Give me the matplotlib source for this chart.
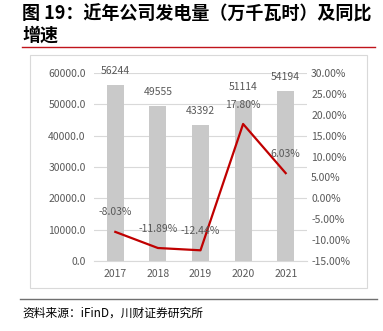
import matplotlib
matplotlib.use("Agg")
import matplotlib.pyplot as plt
from matplotlib.lines import Line2D
from matplotlib.patches import Rectangle

plt.rcParams['font.family'] = ['Noto Sans CJK SC', 'DejaVu Sans']

years = ["2017", "2018", "2019", "2020", "2021"]
generation = [56244, 49555, 43392, 51114, 54194]
growth = [-8.03, -11.89, -12.44, 17.80, 6.03]
left_ticks = [0, 10000, 20000, 30000, 40000, 50000, 60000]
right_ticks = [-15, -10, -5, 0, 5, 10, 15, 20, 25, 30]

GRAY_TXT = "#595959"
RED = "#C00000"

fig = plt.figure(figsize=(3.83, 3.31), dpi=100)

# title and decoration
fig.text(22/383, 1 - 14/331, "图 19：近年公司发电量（万千瓦时）及同比", fontsize=13,
         fontweight='bold', ha='left', va='center', color='black')
fig.text(22/383, 1 - 35/331, "增速", fontsize=13, fontweight='bold',
         ha='left', va='center', color='black')
fig.add_artist(Line2D([22/383, 375/383], [1 - 47/331, 1 - 47/331], color="#C0141B", lw=1.0))
fig.add_artist(Rectangle((30/383, 1 - 288/331), 337/383, 233/331, fill=False,
                         edgecolor="#D9D9D9", lw=0.8))
fig.add_artist(Line2D([20/383, 377/383], [1 - 299/331, 1 - 299/331], color="#707070", lw=1.0))
fig.text(22/383, 1 - 313/331, "资料来源：iFinD，川财证券研究所", fontsize=8.5,
         ha='left', va='center', color='black')

ax = fig.add_axes([94/383, 1 - 261/331, 213/383, 188/331])
x = range(len(years))
ax.bar(x, generation, width=0.4, color="#C9C9C9", zorder=2)
for i, v in zip(x, generation):
    ax.annotate(f"{v}", (i, v), xytext=(0, 10), textcoords='offset points',
                ha='center', va='center', fontsize=7.5, color=GRAY_TXT)
ax.set_ylim(0, 60000)
ax.set_xlim(-0.5, len(years) - 0.5)
ax.set_yticks(left_ticks)
ax.set_yticklabels([f"{t:.1f}" for t in left_ticks])
ax.set_xticks(list(x))
ax.set_xticklabels(years)
ax.grid(axis='y', color="#D9D9D9", lw=0.8, zorder=0)
ax.tick_params(axis='both', length=0, labelsize=7.5, colors=GRAY_TXT, pad=6)
for s in ax.spines.values():
    s.set_visible(False)
ax.spines['bottom'].set_visible(True)
ax.spines['bottom'].set_color("#D9D9D9")

ax2 = ax.twinx()
ax2.plot(list(x), growth, color=RED, lw=1.6, zorder=3)
for i, v in zip(x, growth):
    ax2.annotate(f"{v:.2f}%", (i, v), xytext=(0, 14), textcoords='offset points',
                 ha='center', va='center', fontsize=7.5, color=GRAY_TXT)
ax2.set_ylim(-15, 30)
ax2.set_yticks(right_ticks)
ax2.set_yticklabels([f"{t:.2f}%" for t in right_ticks])
ax2.tick_params(axis='y', length=0, labelsize=7.5, colors=GRAY_TXT, pad=3)
for s in ax2.spines.values():
    s.set_visible(False)

fig.savefig("out.png", dpi=100)
